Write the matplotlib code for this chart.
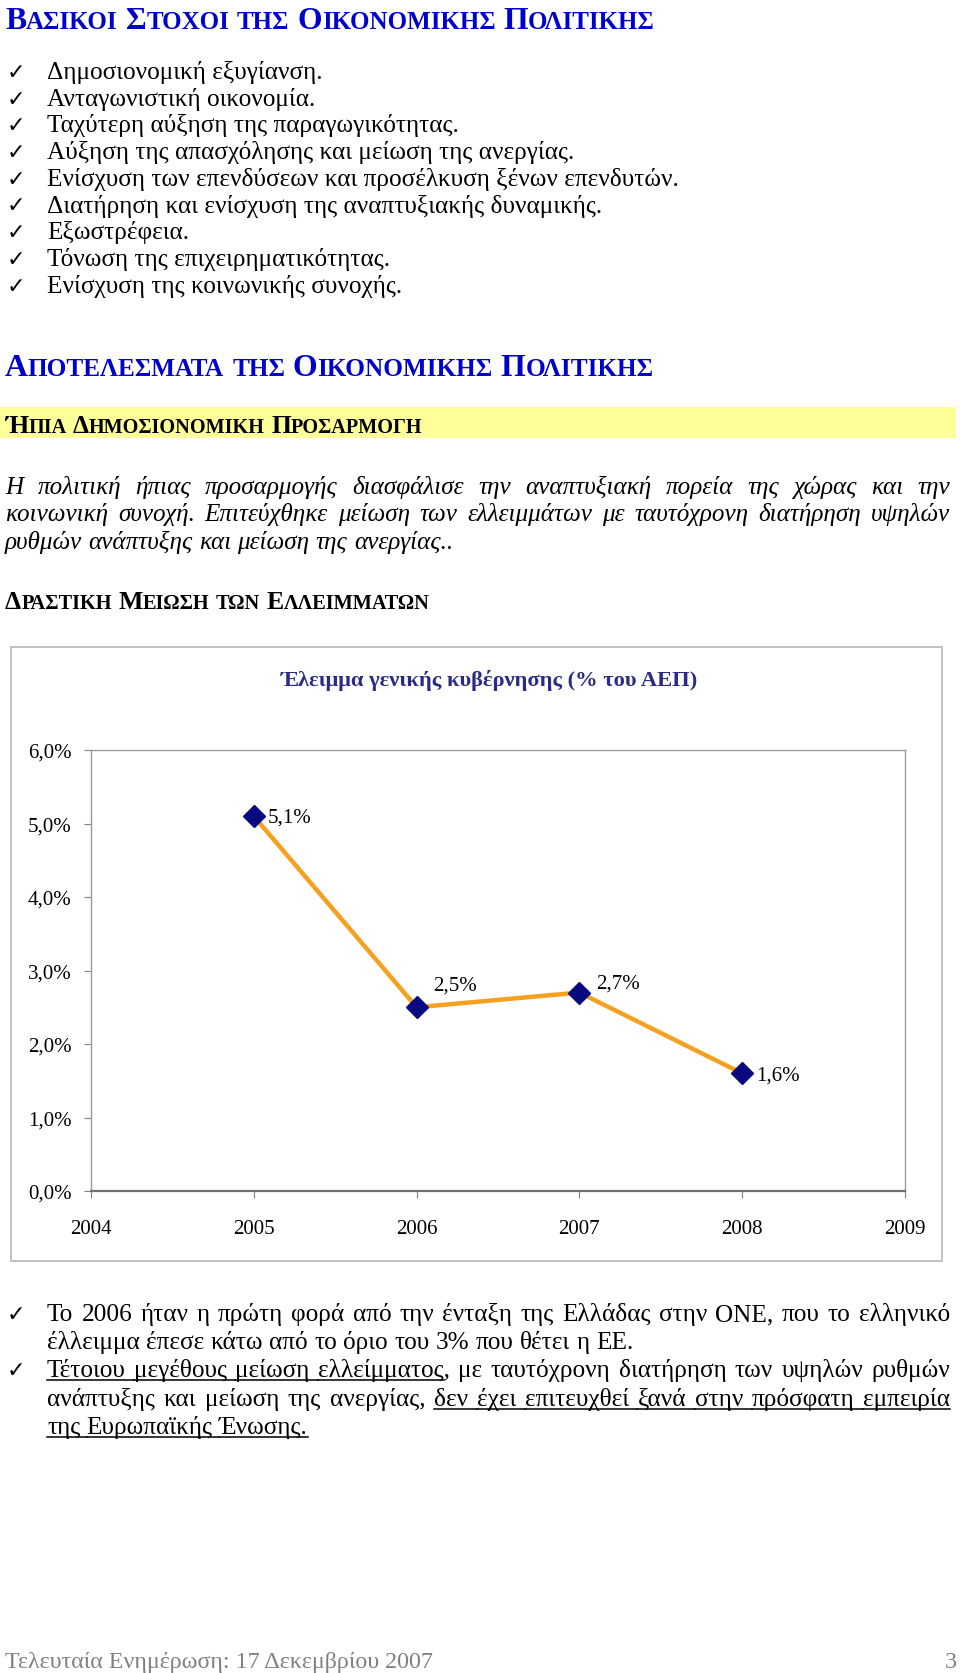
import matplotlib
matplotlib.use("Agg")
import matplotlib.pyplot as plt
from matplotlib.lines import Line2D
from matplotlib.patches import Rectangle
from matplotlib.ticker import FuncFormatter

W, H = 960, 1674
plt.rcParams['font.family'] = ['Liberation Serif', 'DejaVu Sans']

# --- data -------------------------------------------------------------
years = [2005, 2006, 2007, 2008]
deficit = [5.1, 2.5, 2.7, 1.6]
point_labels = ['5,1%', '2,5%', '2,7%', '1,6%']
label_offsets = [(10, -1), (12, 16), (12, 7), (10, -1)]   # points
year_ticks = [2004, 2005, 2006, 2007, 2008, 2009]
pct_ticks = [0, 1, 2, 3, 4, 5, 6]

goals = [
    "Δημοσιονομική εξυγίανση.",
    "Ανταγωνιστική οικονομία.",
    "Ταχύτερη αύξηση της παραγωγικότητας.",
    "Αύξηση της απασχόλησης και μείωση της ανεργίας.",
    "Ενίσχυση των επενδύσεων και προσέλκυση ξένων επενδυτών.",
    "Διατήρηση και ενίσχυση της αναπτυξιακής δυναμικής.",
    "Εξωστρέφεια.",
    "Τόνωση της επιχειρηματικότητας.",
    "Ενίσχυση της κοινωνικής συνοχής.",
]
para = [
    ("Η πολιτική ήπιας προσαρμογής διασφάλισε την αναπτυξιακή πορεία της χώρας και την", True),
    ("κοινωνική συνοχή. Επιτεύχθηκε μείωση των ελλειμμάτων με ταυτόχρονη διατήρηση υψηλών", True),
    ("ρυθμών ανάπτυξης και μείωση της ανεργίας..", False),
]
# words starting with '_' are underlined
notes = [
    ("Το 2006 ήταν η πρώτη φορά από την ένταξη της Ελλάδας στην ΟΝΕ, που το ελληνικό", True, True),
    ("έλλειμμα έπεσε κάτω από το όριο του 3% που θέτει η ΕΕ.", False, False),
    ("_Τέτοιου _μεγέθους _μείωση _ελλείμματος, με ταυτόχρονη διατήρηση των υψηλών ρυθμών", True, True),
    ("ανάπτυξης και μείωση της ανεργίας, _δεν _έχει _επιτευχθεί _ξανά _στην _πρόσφατη _εμπειρία", True, False),
    ("_της _Ευρωπαϊκής _Ένωσης.", False, False),
]

fig = plt.figure(figsize=(W / 100, H / 100), dpi=100)
fig.patch.set_facecolor('white')
renderer = fig.canvas.get_renderer()


def put(x, y, s, **kw):
    return fig.text(x / W, 1 - y / H, s, va='baseline', **kw)


def wid(t):
    return t.get_window_extent(renderer).width


def fit_size(s, target, **kw):
    # font size that makes string s about target pixels wide
    t = put(0, -200, s, fontsize=10, **kw)
    w = wid(t)
    t.remove()
    return 10 * target / w


def hline(x0, x1, y, color='black', lw=1.1):
    fig.add_artist(Line2D([x0 / W, x1 / W], [1 - y / H, 1 - y / H],
                          transform=fig.transFigure, color=color, lw=lw))


def smallcaps(x, y, text, target, ratio=0.79, **kw):
    # lowercase words are set entirely in small capitals
    def draw(x, y, big):
        small = big * ratio
        space = big * 100 / 72 * 0.25
        arts = []
        x_start = x
        for i, word in enumerate(text.split(' ')):
            if i:
                x += space
            if word.islower():
                parts = [(word.upper(), small)]
            else:
                parts = [(word[0], big), (word[1:], small)]
            for s, fs in parts:
                if not s:
                    continue
                t = put(x, y, s, fontsize=fs, **kw)
                x += wid(t)
                arts.append(t)
        return arts, x - x_start
    arts, w = draw(0, -200, 10)
    for a in arts:
        a.remove()
    draw(x, y, 10 * target / w)


def line_of_words(x0, x1, y, text, justify, **kw):
    words = text.split(' ')
    ul = [w.startswith('_') for w in words]
    words = [w.lstrip('_') for w in words]
    arts = [put(x0, y, w, **kw) for w in words]
    ws = [wid(a) for a in arts]
    if justify and len(words) > 1:
        gap = (x1 - x0 - sum(ws)) / (len(words) - 1)
    else:
        gap = kw['fontsize'] * 100 / 72 * 0.25
    x = x0
    starts = []
    for a, w in zip(arts, ws):
        a.set_x(x / W)
        starts.append(x)
        x += w + gap
    comma = put(0, -200, ',', **kw)
    cw = wid(comma)
    comma.remove()
    for i, u in enumerate(ul):
        if not u:
            continue
        end = starts[i] + ws[i]
        if words[i].endswith(','):
            end -= cw
        if i + 1 < len(ul) and ul[i + 1]:
            end = starts[i + 1]
        hline(starts[i], end, y + 4)


CHECK = dict(fontsize=16, family=['DejaVu Sans'])
BLUE = '#0000CC'

# --- headings and goals -------------------------------------------------
smallcaps(5, 29, "ΒΑΣΙΚΟΙ ΣΤΟΧΟΙ της ΟΙΚΟΝΟΜΙΚΗΣ ΠΟΛΙΤΙΚΗΣ", 651,
          color=BLUE, fontweight='bold')

goal_size = fit_size(goals[4], 629)
for i, g in enumerate(goals):
    y = 79 + i * 26.7
    put(7, y, "✓", **CHECK)
    put(47, y, g, fontsize=goal_size)

smallcaps(5, 376, "ΑΠΟΤΕΛΕΣΜΑΤΑ της ΟΙΚΟΝΟΜΙΚΗΣ ΠΟΛΙΤΙΚΗΣ", 650,
          color=BLUE, fontweight='bold')

fig.add_artist(Rectangle((0, 1 - 439 / H), 956 / W, 31 / H, transform=fig.transFigure,
                         facecolor='#FFFF99', edgecolor='none', zorder=-2))
smallcaps(5, 433, "ΉΠΙΑ ΔΗΜΟΣΙΟΝΟΜΙΚΗ ΠΡΟΣΑΡΜΟΓΗ", 420, color='black', fontweight='bold')

para_size = fit_size(para[2][0], 447, style='italic')
for i, (txt, just) in enumerate(para):
    line_of_words(5, 950, 494 + i * 27.3, txt, just, fontsize=para_size, style='italic')

smallcaps(5, 609, "ΔΡΑΣΤΙΚΗ ΜΕΙΩΣΗ των ΕΛΛΕΙΜΜΑΤΩΝ", 426, color='black', fontweight='bold')

# --- chart ------------------------------------------------------------
fig.add_artist(Rectangle((11 / W, 1 - 1262 / H), 931 / W, 614 / H, transform=fig.transFigure,
                         facecolor='none', edgecolor='#BDBDBD', lw=1.3, zorder=-1))
title = "Έλειμμα γενικής κυβέρνησης (% του ΑΕΠ)"
put(489, 686, title, fontsize=fit_size(title, 418, fontweight='bold'), fontweight='bold',
    color='#2B2B85', ha='center')

ax = fig.add_axes([91 / W, 1 - 1192 / H, (905 - 91) / W, (1192 - 751) / H])
ax.plot(years, deficit, color='#F5A01E', lw=3.2, zorder=2)
ax.plot(years, deficit, ls='none', marker='D', ms=11, color='#0A0A80', zorder=3)
for xv, yv, lab, off in zip(years, deficit, point_labels, label_offsets):
    ax.annotate(lab, (xv, yv), xytext=off, textcoords='offset points',
                fontsize=15, va='center', ha='left')
ax.set_xlim(2004, 2009)
ax.set_ylim(0, 6)
ax.set_xticks(year_ticks)
ax.set_yticks(pct_ticks)
ax.yaxis.set_major_formatter(FuncFormatter(lambda v, p: f"{v:.1f}%".replace('.', ',')))
ax.tick_params(axis='both', direction='out', length=5, color='#808080', labelsize=15)
ax.tick_params(axis='y', pad=9)
ax.tick_params(axis='x', pad=15)
for s in ax.spines.values():
    s.set_color('#9A9A9A')
    s.set_linewidth(1.0)
ax.spines['bottom'].set_color('#707070')
ax.spines['bottom'].set_linewidth(1.6)

# --- notes --------------------------------------------------------------
note_size = fit_size(notes[1][0], 585)
for i, (txt, just, check) in enumerate(notes):
    y = 1321 + i * 28.2
    if check:
        put(7, y, "✓", **CHECK)
    line_of_words(47, 950, y, txt, just, fontsize=note_size)

foot = "Τελευταία Ενημέρωση: 17 Δεκεμβρίου 2007"
foot_size = fit_size(foot, 426)
put(5, 1668, foot, fontsize=foot_size, color='#808080')
put(957, 1668, "3", fontsize=foot_size, color='#808080', ha='right')

fig.savefig("out.png", dpi=100)
